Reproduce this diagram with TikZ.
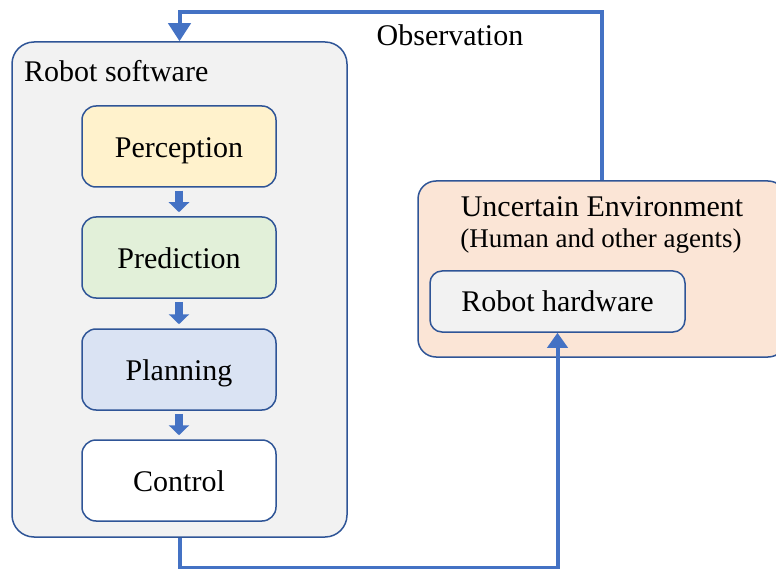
\documentclass[tikz,border=0pt]{standalone}
\usepackage{fontspec}
\setmainfont{Liberation Serif}
\usepackage{tikz}
\usetikzlibrary{
    arrows.meta,
    positioning,
    calc
}
\definecolor{edgeBlue}{RGB}{47,85,151}
\definecolor{loopBlue}{RGB}{68,114,196}
\definecolor{swGray}{RGB}{242,242,242}
\definecolor{percYellow}{RGB}{255,242,204}
\definecolor{predGreen}{RGB}{226,240,217}
\definecolor{planBlue}{RGB}{218,227,243}
\definecolor{envPeach}{RGB}{251,229,214}
\tikzset{
  bigfont/.style = {font=\fontsize{30}{34}\selectfont},
  group/.style   = {draw=edgeBlue, line width=1.5pt, rounded corners=22pt},
  block/.style   = {draw=edgeBlue, line width=1.5pt, rounded corners=14pt,
                    minimum width=194pt, minimum height=81pt, align=center,
                    text height=22.5pt, text depth=0pt, bigfont},
  hwblock/.style = {draw=edgeBlue, line width=1.5pt, rounded corners=12pt,
                    fill=swGray, minimum width=255pt, minimum height=61pt,
                    bigfont},
  flow/.style    = {-{Triangle[width=20pt,length=10pt]}, line width=8pt,
                    loopBlue, shorten <=3pt, shorten >=4pt},
  loopline/.style = {line width=4pt, loopBlue,
                    -{Triangle[width=22pt,length=18pt]}}
}

\begin{document}
\begin{tikzpicture}[x=1pt, y=-1pt]
  \useasboundingbox (0,0) rectangle (776,569);
  \clip (0,0) rectangle (776,569);
  % robot software
  \node[group, fill=swGray, minimum width=335pt, minimum height=495pt]
       (sw) at (179.5,289.5) {};
  \node[bigfont, anchor=west, inner sep=0pt] (swlabel) at (24,71)
       {Robot software};
  \node[block, fill=percYellow] (perc) at (179,146.5) {Perception};
  \node[block, fill=predGreen, below=28.5pt of perc] (pred) {Prediction};
  \node[block, fill=planBlue, below=29.5pt of pred] (plan) {Planning};
  \node[block, fill=white, below=28.5pt of plan] (ctrl) {Control};
  \draw[flow] (perc) -- (pred);
  \draw[flow] (pred) -- (plan);
  \draw[flow] (plan) -- (ctrl);
  % environment
  \node[group, rounded corners=18pt, fill=envPeach, minimum width=368pt,
        minimum height=176pt] (env) at (602,269) {};
  \node[bigfont, inner sep=0pt] (envtitle) at (602,207) {Uncertain Environment};
  \node[font=\fontsize{27}{31}\selectfont, inner sep=0pt] (envsub) at (601,241)
       {(Human and other agents)};
  \node[hwblock] (hw) at (557.5,301.5) {Robot hardware};
  % feedback loop
  \coordinate (top) at (602,12);
  \draw[loopline] (env.north) -- (top) -| (sw.north);
  \node[bigfont, inner sep=0pt] (obs) at (450,35) {Observation};
  \draw[loopline, -{Triangle[width=20pt,length=15pt]}]
       (sw.south) -- ++(0,30) -| (hw.south);
\end{tikzpicture}
\end{document}
